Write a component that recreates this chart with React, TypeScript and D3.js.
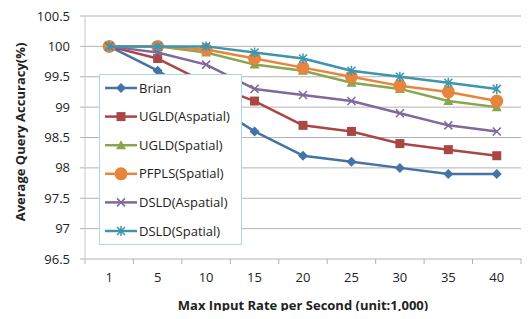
import React, { useRef, useEffect } from 'react';
import * as d3 from 'd3';

const categories = ['1', '5', '10', '15', '20', '25', '30', '35', '40'];
const yTicks = [96.5, 97, 97.5, 98, 98.5, 99, 99.5, 100, 100.5];

const brian = [100, 99.6, 99.1, 98.6, 98.2, 98.1, 98.0, 97.9, 97.9];
const ugldAspatial = [100, 99.8, 99.4, 99.1, 98.7, 98.6, 98.4, 98.3, 98.2];
const ugldSpatial = [100, 100, 99.9, 99.7, 99.6, 99.4, 99.3, 99.1, 99.0];
const pfplsSpatial = [100, 100, 99.95, 99.8, 99.65, 99.5, 99.35, 99.25, 99.1];
const dsldAspatial = [100, 99.9, 99.7, 99.3, 99.2, 99.1, 98.9, 98.7, 98.6];
const dsldSpatial = [100, 100, 100, 99.9, 99.8, 99.6, 99.5, 99.4, 99.3];

const series = [
  { name: 'Brian', values: brian, color: '#4572a7', marker: 'diamond' },
  { name: 'UGLD(Aspatial)', values: ugldAspatial, color: '#aa4643', marker: 'square' },
  { name: 'UGLD(Spatial)', values: ugldSpatial, color: '#89a54e', marker: 'triangle' },
  { name: 'PFPLS(Spatial)', values: pfplsSpatial, color: '#e8853d', marker: 'circle' },
  { name: 'DSLD(Aspatial)', values: dsldAspatial, color: '#80699b', marker: 'x' },
  { name: 'DSLD(Spatial)', values: dsldSpatial, color: '#3d96ae', marker: 'star' },
];

function drawMarker(g: any, type: string, x: number, y: number, color: string) {
  if (type === 'diamond') {
    g.append('path').attr('d', `M${x},${y - 5}L${x + 5},${y}L${x},${y + 5}L${x - 5},${y}Z`).attr('fill', color);
  } else if (type === 'square') {
    g.append('rect').attr('x', x - 4.5).attr('y', y - 4.5).attr('width', 9).attr('height', 9).attr('fill', color);
  } else if (type === 'triangle') {
    g.append('path').attr('d', `M${x},${y - 5}L${x + 5},${y + 4}L${x - 5},${y + 4}Z`).attr('fill', color);
  } else if (type === 'circle') {
    g.append('circle').attr('cx', x).attr('cy', y).attr('r', 6.5).attr('fill', color);
  } else if (type === 'x') {
    g.append('path').attr('d', `M${x - 4},${y - 4}L${x + 4},${y + 4}M${x - 4},${y + 4}L${x + 4},${y - 4}`)
      .attr('stroke', color).attr('stroke-width', 1.5);
  } else if (type === 'star') {
    g.append('path').attr('d', `M${x - 4},${y - 4}L${x + 4},${y + 4}M${x - 4},${y + 4}L${x + 4},${y - 4}M${x},${y - 5}L${x},${y + 5}`)
      .attr('stroke', color).attr('stroke-width', 1.5);
  }
}

function AccuracyChart({ width = 531, height = 319 }) {
  const svgRef = useRef(null);

  useEffect(() => {
    const root = d3.select(svgRef.current);
    root.selectAll('*').remove();

    const margin = { top: 16, right: 10, bottom: 60, left: 85 };
    const innerWidth = width - margin.left - margin.right;
    const innerHeight = height - margin.top - margin.bottom;
    const font = 'Open Sans, DejaVu Sans, sans-serif';

    const xScale = d3.scaleBand().domain(categories).range([0, innerWidth]);
    const yScale = d3.scaleLinear().domain([96.5, 100.5]).range([innerHeight, 0]);
    const cx = (c: string) => (xScale(c) as number) + xScale.bandwidth() / 2;

    const svg = root.append('g').attr('transform', `translate(${margin.left},${margin.top})`);

    // Gridlines
    svg.selectAll('.grid').data(yTicks).enter().append('line')
      .attr('x1', 0).attr('x2', innerWidth)
      .attr('y1', d => yScale(d)).attr('y2', d => yScale(d))
      .attr('stroke', '#b3b3b3').attr('stroke-width', 1);

    // Y axis
    svg.append('line').attr('x1', 0).attr('x2', 0).attr('y1', 0).attr('y2', innerHeight)
      .attr('stroke', '#c8c8c8');
    svg.selectAll('.ytick').data(yTicks).enter().append('line')
      .attr('x1', -5).attr('x2', 0).attr('y1', d => yScale(d)).attr('y2', d => yScale(d))
      .attr('stroke', '#b3b3b3');
    svg.selectAll('.ylabel').data(yTicks).enter().append('text')
      .attr('x', -15).attr('y', d => yScale(d)).attr('dy', '0.35em')
      .attr('text-anchor', 'end').style('font-family', font).style('font-size', '13px').attr('fill', '#222')
      .text(d => String(d));

    // X axis ticks
    const bounds = categories.map(c => xScale(c) as number).concat([innerWidth]);
    svg.selectAll('.xtick').data(bounds).enter().append('line')
      .attr('x1', d => d).attr('x2', d => d).attr('y1', innerHeight).attr('y2', innerHeight + 5)
      .attr('stroke', '#b3b3b3');
    svg.selectAll('.xlabel').data(categories).enter().append('text')
      .attr('x', d => cx(d)).attr('y', innerHeight + 23)
      .attr('text-anchor', 'middle').style('font-family', font).style('font-size', '13px').attr('fill', '#222')
      .text(d => d);

    // Axis titles
    svg.append('text')
      .attr('x', innerWidth / 2).attr('y', innerHeight + 51)
      .attr('text-anchor', 'middle').style('font-family', font).style('font-size', '13px')
      .style('font-weight', 'bold').attr('fill', '#222')
      .text('Max Input Rate per Second (unit:1,000)');
    svg.append('text')
      .attr('transform', 'rotate(-90)')
      .attr('x', -116).attr('y', -60)
      .attr('text-anchor', 'middle').style('font-family', font).style('font-size', '13px')
      .style('font-weight', 'bold').attr('fill', '#222')
      .text('Average Query Accuracy(%)');

    // Lines and markers
    const line = d3.line<number>()
      .x((_, i) => cx(categories[i]))
      .y(d => yScale(d));

    series.forEach(s => {
      const g = svg.append('g');
      g.append('path').datum(s.values).attr('d', line)
        .attr('fill', 'none').attr('stroke', s.color).attr('stroke-width', 2.5)
        .attr('stroke-linejoin', 'round');
      s.values.forEach((v, i) => drawMarker(g, s.marker, cx(categories[i]), yScale(v), s.color));
    });

    // Legend
    const legend = root.append('g').attr('transform', 'translate(99,74)');
    legend.append('rect').attr('x', 0.5).attr('y', 0.5).attr('width', 142).attr('height', 170)
      .attr('fill', '#fff').attr('stroke', '#a9d9e6');
    series.forEach((s, i) => {
      const y = 14 + i * 28.6;
      legend.append('line').attr('x1', 6).attr('x2', 38).attr('y1', y).attr('y2', y)
        .attr('stroke', s.color).attr('stroke-width', 2.5);
      drawMarker(legend, s.marker, 22, y, s.color);
      legend.append('text').attr('x', 40).attr('y', y).attr('dy', '0.35em')
        .style('font-family', font).style('font-size', '13px').attr('fill', '#222')
        .text(s.name);
    });
  }, [width, height]);

  return <svg ref={svgRef} width={width} height={height} style={{ display: 'block' }}></svg>;
}

export default function App() {
  return (
    <div style={{ margin: -8 }}>
      <AccuracyChart />
    </div>
  );
}
